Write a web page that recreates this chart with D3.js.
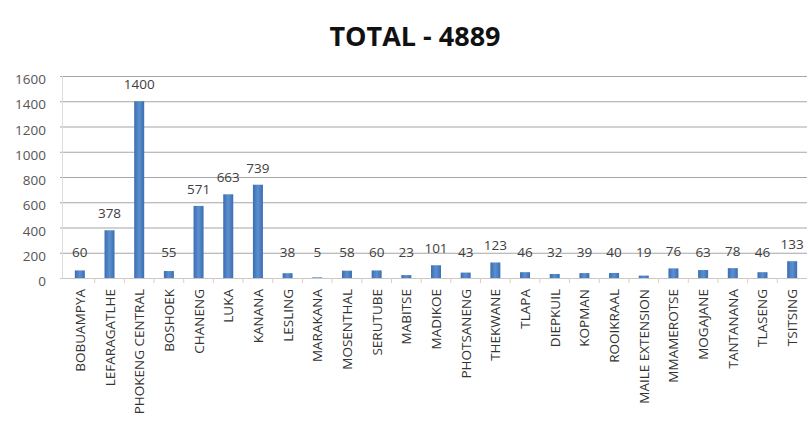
<!DOCTYPE html>
<html>
<head>
<meta charset="utf-8">
<script src="https://cdn.jsdelivr.net/npm/d3@7"></script>
<style>
  body { margin: 0; background: #fff; }
  text { font-family: "Open Sans", "Liberation Sans", sans-serif; }
</style>
</head>
<body>
<div id="chart"></div>
<script>
var villages = ["BOBUAMPYA", "LEFARAGATLHE", "PHOKENG CENTRAL", "BOSHOEK", "CHANENG", "LUKA", "KANANA",
    "LESLING", "MARAKANA", "MOSENTHAL", "SERUTUBE", "MABITSE", "MADIKOE", "PHOTSANENG", "THEKWANE",
    "TLAPA", "DIEPKUIL", "KOPMAN", "ROOIKRAAL", "MAILE EXTENSION", "MMAMEROTSE", "MOGAJANE",
    "TANTANANA", "TLASENG", "TSITSING"];
var totals = [60, 378, 1400, 55, 571, 663, 739, 38, 5, 58, 60, 23, 101, 43, 123, 46, 32, 39, 40, 19, 76, 63, 78, 46, 133];
var yTicks = [0, 200, 400, 600, 800, 1000, 1200, 1400, 1600];

var width = 807, height = 437;
var margin = {top: 76, left: 65, right: 0, bottom: 159};

var svg = d3.select("#chart").append("svg")
    .attr("width", width)
    .attr("height", height);

var x = d3.scaleBand()
    .domain(villages)
    .range([margin.left, width - margin.right]);

var y = d3.scaleLinear()
    .domain([0, 1600])
    .range([height - margin.bottom, margin.top]);

// title
svg.append("text")
    .attr("x", 415)
    .attr("y", 46)
    .attr("text-anchor", "middle")
    .style("font-size", "27px")
    .style("font-weight", "bold")
    .style("fill", "#111")
    .text("TOTAL - 4889");

// gridlines
svg.append("g")
    .selectAll("line")
    .data(yTicks)
    .join("line")
    .attr("x1", 60)
    .attr("x2", width)
    .attr("y1", d => y(d) + 0.5)
    .attr("y2", d => y(d) + 0.5)
    .attr("stroke", d => d === 0 ? "#c8c8c8" : "#a6a6a6")
    .attr("stroke-width", 1.2);

// faint value axis
svg.append("line")
    .attr("x1", 62.5).attr("x2", 62.5)
    .attr("y1", y(1600)).attr("y2", y(0))
    .attr("stroke", "#dcdcdc");

// y tick labels
svg.append("g")
    .selectAll("text")
    .data(yTicks)
    .join("text")
    .attr("x", 46)
    .attr("y", d => y(d) + 8)
    .attr("text-anchor", "end")
    .style("font-size", "13.5px")
    .style("fill", "#555")
    .text(d => d);

// small category ticks
svg.append("g")
    .selectAll("line")
    .data(villages.slice(1))
    .join("line")
    .attr("x1", d => x(d))
    .attr("x2", d => x(d))
    .attr("y1", y(0))
    .attr("y2", y(0) + 5)
    .attr("stroke", "#e6c8b8");

// bars
var grad = svg.append("defs").append("linearGradient")
    .attr("id", "barGrad")
    .attr("x1", "0%").attr("x2", "100%");
grad.append("stop").attr("offset", "0%").attr("stop-color", "#3a6eb0");
grad.append("stop").attr("offset", "50%").attr("stop-color", "#5b8fd0");
grad.append("stop").attr("offset", "100%").attr("stop-color", "#3a6eb0");

var barW = 10;
svg.append("g")
    .selectAll("rect")
    .data(totals)
    .join("rect")
    .attr("x", (d, i) => x(villages[i]) + x.bandwidth() / 2 - barW / 2)
    .attr("width", barW)
    .attr("y", d => y(d))
    .attr("height", d => y(0) - y(d))
    .attr("fill", "url(#barGrad)");

// value labels
svg.append("g")
    .selectAll("text")
    .data(totals)
    .join("text")
    .attr("x", (d, i) => x(villages[i]) + x.bandwidth() / 2)
    .attr("y", d => Math.min(y(d), y(0) - 9) - 12)
    .attr("text-anchor", "middle")
    .style("font-size", "13.5px")
    .style("fill", "#404040")
    .text(d => d);

// category labels
svg.append("g")
    .selectAll("text")
    .data(villages)
    .join("text")
    .attr("transform", d => "translate(" + (x(d) + x.bandwidth() / 2 + 5) + "," + (y(0) + 11) + ") rotate(-90)")
    .attr("text-anchor", "end")
    .style("font-size", "13.5px")
    .style("fill", "#333")
    .text(d => d);
</script>
</body>
</html>
